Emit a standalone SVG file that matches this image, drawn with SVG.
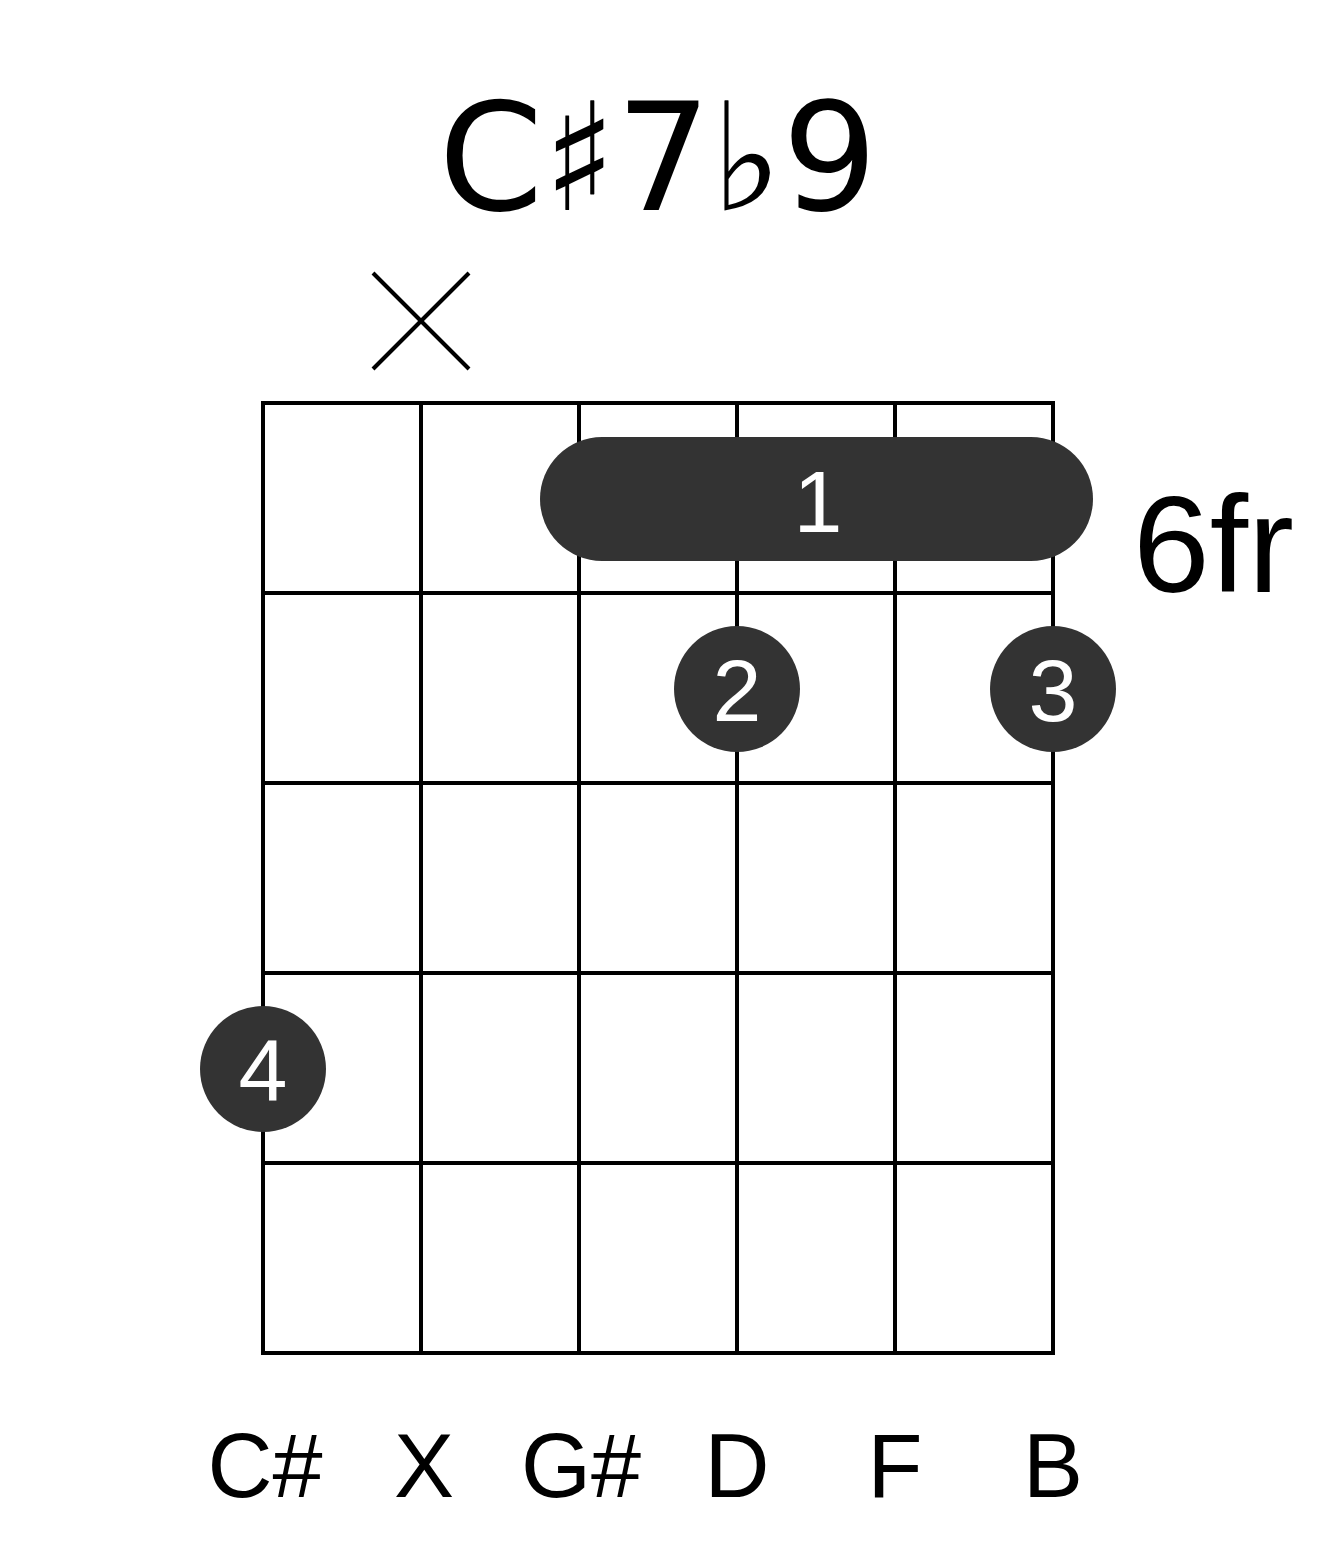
<svg xmlns="http://www.w3.org/2000/svg" width="1317" height="1551" viewBox="0 0 1317 1551">
<style>
.g{stroke:#000;stroke-width:4;fill:none}
.d{fill:#333}
.w{fill:#fff;font-family:"Liberation Sans",Arial,sans-serif;font-size:88px;text-anchor:middle}
.l{font-family:"Liberation Sans",Arial,sans-serif;font-size:90px;text-anchor:middle}
</style>
<rect width="1317" height="1551" fill="#fff"/>
<text x="658" y="210" font-family="'DejaVu Sans','Liberation Sans',sans-serif" font-size="150" text-anchor="middle">C♯7♭9</text>
<g id="mute" class="g"><line x1="373" y1="273" x2="469" y2="369"/><line x1="469" y1="273" x2="373" y2="369"/></g>
<g id="grid" class="g">
<rect x="263" y="403" width="790" height="950"/>
<line x1="421" y1="403" x2="421" y2="1353"/><line x1="579" y1="403" x2="579" y2="1353"/><line x1="737" y1="403" x2="737" y2="1353"/><line x1="895" y1="403" x2="895" y2="1353"/>
<line x1="263" y1="593" x2="1053" y2="593"/><line x1="263" y1="783" x2="1053" y2="783"/><line x1="263" y1="973" x2="1053" y2="973"/><line x1="263" y1="1163" x2="1053" y2="1163"/>
</g>
<g id="barre"><rect class="d" x="540" y="437" width="553" height="124" rx="62"/><text class="w" x="818" y="532">1</text></g>
<g id="f2"><circle class="d" cx="737" cy="689" r="63"/><text class="w" x="737" y="721">2</text></g>
<g id="f3"><circle class="d" cx="1053" cy="689" r="63"/><text class="w" x="1053" y="721">3</text></g>
<g id="f4"><circle class="d" cx="263" cy="1069" r="63"/><text class="w" x="263" y="1101">4</text></g>
<text x="1133" y="592" font-family="'Liberation Sans',Arial,sans-serif" font-size="138">6fr</text>
<g id="labels">
<text class="l" x="265" y="1497">C#</text><text class="l" x="424" y="1497">X</text><text class="l" x="581" y="1497">G#</text><text class="l" x="737" y="1497">D</text><text class="l" x="895" y="1497">F</text><text class="l" x="1053" y="1497">B</text>
</g>
</svg>
